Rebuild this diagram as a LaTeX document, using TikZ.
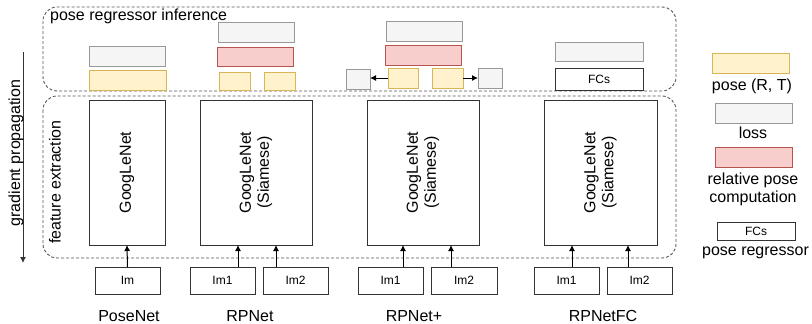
\documentclass[tikz,border=0pt]{standalone}
\usepackage{fontspec}
\setmainfont{Liberation Sans}
\usetikzlibrary{arrows.meta}
\definecolor{lossfill}{HTML}{F5F5F5}
\definecolor{lossdraw}{HTML}{999999}
\definecolor{posefill}{HTML}{FFF2CC}
\definecolor{posedraw}{HTML}{D6B656}
\definecolor{relfill}{HTML}{F8CECC}
\definecolor{reldraw}{HTML}{B85450}
\definecolor{boxdraw}{HTML}{333333}
\definecolor{dashdraw}{HTML}{555555}
\begin{document}
\begin{tikzpicture}[x=1pt,y=-1pt,
  base/.style={line width=1pt, inner sep=0pt, outer sep=0pt, anchor=center},
  lossbox/.style={base, draw=lossdraw, fill=lossfill},
  posebox/.style={base, draw=posedraw, fill=posefill},
  relbox/.style={base, draw=reldraw, fill=relfill},
  netbox/.style={base, draw=boxdraw, fill=white, minimum height=145pt},
  imbox/.style={base, draw=boxdraw, fill=white, minimum width=65pt, minimum height=27pt, font=\fontsize{12}{14}\selectfont},
  fcbox/.style={base, draw=boxdraw, fill=white, font=\fontsize{12}{14}\selectfont},
  netlabel/.style={rotate=90, align=center, font=\fontsize{16}{18}\selectfont},
  txt/.style={inner sep=0pt, font=\fontsize{16}{18}\selectfont},
  group/.style={draw=dashdraw, line width=0.9pt, dash pattern=on 3pt off 2pt, rounded corners=14pt},
  arr/.style={line width=1pt, draw=black, -{Latex[length=6pt,width=6pt]}},
]
\useasboundingbox (0,0) rectangle (812,324);

% group boxes
\draw[group] (43,7) rectangle (676,91);
\draw[group] (43,96) rectangle (676,258);
\node[txt, anchor=west] (inf) at (50,16) {pose regressor inference};
\node[txt, rotate=90] (fe) at (55,182) {feature extraction};

% gradient propagation
\coordinate (gtop) at (23,52);
\coordinate (gbot) at (23,263);
\draw[line width=1pt, draw=boxdraw, -{Latex[length=6pt,width=6pt]}] (gtop) -- (gbot);
\node[txt, rotate=90] (gp) at (16,153) {gradient propagation};

% ---------- PoseNet ----------
\node[lossbox, minimum width=76pt, minimum height=20pt] (pl) at (127,56) {};
\node[posebox, minimum width=77pt, minimum height=20pt] (pp) at (127.5,80) {};
\node[netbox, minimum width=76pt] (pg) at (127,172.5) {};
\node[netlabel] at (pg.center) {GoogLeNet};
\node[imbox] (pim) at (127.5,280.5) {Im};
\draw[arr] (pim.north) -- (pg.south);
\node[txt] (pn) at (129,316) {PoseNet};

% ---------- RPNet ----------
\node[lossbox, minimum width=76pt, minimum height=20pt] (rl) at (256,32.5) {};
\node[relbox, minimum width=76pt, minimum height=19pt] (rr) at (255,56.5) {};
\node[posebox, minimum width=31pt, minimum height=18pt] (rp1) at (234.5,81) {};
\node[posebox, minimum width=31pt, minimum height=18pt] (rp2) at (279.5,81) {};
\node[netbox, minimum width=112pt] (rg) at (256,172.5) {};
\node[netlabel] at (rg.center) {GoogLeNet\\(Siamese)};
\node[imbox] (rim1) at (222.5,280.5) {Im1};
\node[imbox] (rim2) at (295.5,280.5) {Im2};
\coordinate (ra1) at (238,0);
\coordinate (ra2) at (276,0);
\draw[arr] (rim1.north -| ra1) -- (rg.south -| ra1);
\draw[arr] (rim2.north -| ra2) -- (rg.south -| ra2);
\node[txt] (rn) at (250,316) {RPNet};

% ---------- RPNet+ ----------
\node[lossbox, minimum width=76pt, minimum height=20pt] (ql) at (424,31) {};
\node[relbox, minimum width=76pt, minimum height=20pt] (qr) at (423.5,55) {};
\node[posebox, minimum width=30pt, minimum height=20pt] (qp1) at (403,78) {};
\node[posebox, minimum width=31pt, minimum height=20pt] (qp2) at (447.5,78) {};
\node[lossbox, minimum width=24pt, minimum height=20pt] (qs1) at (358,79) {};
\node[lossbox, minimum width=24pt, minimum height=20pt] (qs2) at (490,78) {};
\draw[arr] (qp1.west) -- (qs1.east |- qp1.west);
\draw[arr] (qp2.east) -- (qs2.west);
\node[netbox, minimum width=112pt] (qg) at (423,172.5) {};
\node[netlabel] at (qg.center) {GoogLeNet\\(Siamese)};
\node[imbox] (qim1) at (390.5,280.5) {Im1};
\node[imbox, minimum width=66pt] (qim2) at (464,280.5) {Im2};
\coordinate (qa1) at (403,0);
\coordinate (qa2) at (451,0);
\draw[arr] (qim1.north -| qa1) -- (qg.south -| qa1);
\draw[arr] (qim2.north -| qa2) -- (qg.south -| qa2);
\node[txt] (qn) at (414,316) {RPNet+};

% ---------- RPNetFC ----------
\node[lossbox, minimum width=88pt, minimum height=19pt] (fl) at (599,51.5) {};
\node[fcbox, minimum width=88pt, minimum height=22pt] (ff) at (599,79) {FCs};
\node[netbox, minimum width=113pt] (fg) at (600.5,172.5) {};
\node[netlabel] at (fg.center) {GoogLeNet\\(Siamese)};
\node[imbox] (fim1) at (566.5,280.5) {Im1};
\node[imbox] (fim2) at (639.5,280.5) {Im2};
\coordinate (fa1) at (572,0);
\coordinate (fa2) at (628,0);
\draw[arr] (fim1.north -| fa1) -- (fg.south -| fa1);
\draw[arr] (fim2.north -| fa2) -- (fg.south -| fa2);
\node[txt] (fn) at (603,316) {RPNetFC};

% ---------- Legend ----------
\node[posebox, minimum width=77pt, minimum height=20pt] (lg1) at (750.5,63) {};
\node[txt] (lt1) at (752,86) {pose (R, T)};
\node[lossbox, minimum width=77pt, minimum height=20pt] (lg2) at (753.5,113) {};
\node[txt] (lt2) at (753,133) {loss};
\node[relbox, minimum width=77pt, minimum height=20pt] (lg3) at (753.5,157) {};
\node[txt, align=center] (lt3) at (753,189.5) {relative pose\\computation};
\node[fcbox, minimum width=78pt, minimum height=18pt] (lg4) at (756,231) {FCs};
\node[txt] (lt4) at (755.5,253) {pose regressor};
\end{tikzpicture}
\end{document}
